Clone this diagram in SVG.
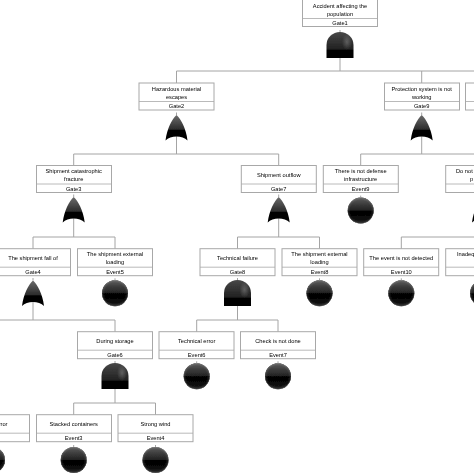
<svg xmlns="http://www.w3.org/2000/svg" width="474" height="474" viewBox="0 0 474 474">
<style>
.b{fill:#fff;stroke:#a8a8a8;stroke-width:1}
.d{stroke:#a8a8a8;stroke-width:.8;fill:none}
.t{font-family:"Liberation Sans",Arial,sans-serif;font-size:5.7px;fill:#000;text-anchor:middle}
.c{fill:none;stroke:#a4a4a4;stroke-width:1}
</style>
<defs>
<filter id="soft" x="0" y="0" width="100%" height="100%" filterUnits="userSpaceOnUse"><feGaussianBlur stdDeviation="0.22"/></filter>
<linearGradient id="g" x1="0" y1="0" x2="0" y2="1">
<stop offset="0" stop-color="#5e5e5e"/><stop offset=".25" stop-color="#3c3c3c"/><stop offset=".49" stop-color="#222"/><stop offset=".51" stop-color="#030303"/><stop offset=".8" stop-color="#080808"/><stop offset="1" stop-color="#2a2a2a"/>
</linearGradient>
<radialGradient id="rim" cx=".5" cy=".5" r=".5">
<stop offset="0" stop-color="#fff" stop-opacity="0"/><stop offset=".8" stop-color="#fff" stop-opacity="0"/><stop offset=".94" stop-color="#fff" stop-opacity=".08"/><stop offset="1" stop-color="#000" stop-opacity=".5"/>
</radialGradient>
<radialGradient id="hl" cx=".5" cy=".5" r=".5">
<stop offset="0" stop-color="#fff" stop-opacity=".22"/><stop offset="1" stop-color="#fff" stop-opacity="0"/>
</radialGradient>
<linearGradient id="a" x1="0" y1="0" x2="0" y2="1">
<stop offset="0" stop-color="#484848"/><stop offset=".35" stop-color="#333"/><stop offset=".66" stop-color="#222"/><stop offset=".7" stop-color="#030303"/><stop offset="1" stop-color="#000"/>
</linearGradient>
<linearGradient id="o" x1="0" y1="0" x2="0" y2="1">
<stop offset="0" stop-color="#6c6c6c"/><stop offset=".3" stop-color="#4a4a4a"/><stop offset=".56" stop-color="#2c2c2c"/><stop offset=".6" stop-color="#040404"/><stop offset="1" stop-color="#000"/>
</linearGradient>
<g id="ev"><circle r="13" fill="url(#g)"/><circle r="13" fill="url(#rim)"/><line y1="-15" y2="-13" class="c"/></g>
<g id="and"><path d="M-13.500 13V0A13.500 13 0 0 1 13.500 0V13Z" fill="url(#a)"/><ellipse cx="7" cy="-3" rx="5" ry="8" fill="url(#hl)"/><line y1="-15" y2="-13" class="c"/></g>
<g id="or"><path d="M0-12.500C4.500-8.500 9.500 1 11 13C6 7.500-6 7.500-11 13C-9.500 1-4.500-8.500 0-12.500Z" fill="url(#o)"/><line y1="-15" y2="-12.500" class="c"/></g>
</defs>
<rect width="474" height="474" fill="#fff"/>
<g filter="url(#soft)">
<g id="connectors" class="c">
<path d="M340 57V71M176.500 71H474M176.500 71V83M421.700 71V83"/>
<path d="M176.500 136V154M73.700 154H278.700M73.700 154V165.500M278.700 154V165.500"/>
<path d="M421.700 136V154M360.700 154H474M360.700 154V165.500"/>
<path d="M73.700 218V237M33 237H115M33 237V249M115 237V249"/>
<path d="M278.700 218V237M237.500 237H319.500M237.500 237V249M319.500 237V249"/>
<path d="M401.300 237H474M401.300 237V249"/>
<path d="M33 302V320M0 320H115M115 320V332"/>
<path d="M237.500 306V320M196.700 320H278M196.700 320V332M278 320V332"/>
<path d="M115 389V403M73.700 403H155.500M73.700 403V415M155.500 403V415"/>
</g>
<g id="Gate1"><rect class="b" x="302.500" y="-2" width="75" height="28.500"/><path class="d" d="M302.500 18.500H377.500"/><text class="t" x="340" y="7.500">Accident affecting the</text><text class="t" x="340" y="15.800">population</text><text class="t" x="340" y="24.800">Gate1</text><use href="#and" x="340" y="45"/></g>
<g id="Gate2"><rect class="b" x="139" y="83" width="75" height="27"/><path class="d" d="M139 101.500H214"/><text class="t" x="176.500" y="90.500">Hazardous material</text><text class="t" x="176.500" y="98.800">escapes</text><text class="t" x="176.500" y="108">Gate2</text><use href="#or" x="176.500" y="127.500"/></g>
<g id="Gate9"><rect class="b" x="384.500" y="83" width="75" height="27"/><path class="d" d="M384.500 101.500H459.500"/><text class="t" x="421.700" y="90.500">Protection system is not</text><text class="t" x="421.700" y="98.800">working</text><text class="t" x="421.700" y="108">Gate9</text><use href="#or" x="421.700" y="127.500"/></g>
<g id="GateR"><rect class="b" x="465.500" y="83" width="75" height="27"/><path class="d" d="M465.500 101.500H540"/></g>
<g id="Gate3"><rect class="b" x="36.500" y="165.500" width="75" height="27"/><path class="d" d="M36.500 184H111.500"/><text class="t" x="73.700" y="173">Shipment catastrophic</text><text class="t" x="73.700" y="181.300">fracture</text><text class="t" x="73.700" y="190.500">Gate3</text><use href="#or" x="73.700" y="209.500"/></g>
<g id="Gate7"><rect class="b" x="241.300" y="165.500" width="75" height="27"/><path class="d" d="M241.300 184H316.300"/><text class="t" x="278.700" y="177">Shipment outflow</text><text class="t" x="278.700" y="190.500">Gate7</text><use href="#or" x="278.700" y="209.500"/></g>
<g id="Event9"><rect class="b" x="323.300" y="165.500" width="75" height="27"/><path class="d" d="M323.300 184H398.300"/><text class="t" x="360.700" y="173">There is not defense</text><text class="t" x="360.700" y="181.300">infrastructure</text><text class="t" x="360.700" y="190.500">Event9</text><use href="#ev" x="360.700" y="210.600"/></g>
<g id="GateDo"><rect class="b" x="445.700" y="165.500" width="75" height="27"/><path class="d" d="M445.700 184H520"/><text class="t" x="456" y="173" style="text-anchor:start">Do not</text><text class="t" x="470" y="181.300" style="text-anchor:start">p</text><use href="#or" x="483" y="209.500"/></g>
<g id="Gate4"><rect class="b" x="-4.500" y="248.700" width="75" height="27"/><path class="d" d="M-4.500 267.200H70.500"/><text class="t" x="33" y="260">The shipment fall of</text><text class="t" x="33" y="273.700">Gate4</text><use href="#or" x="33" y="293"/></g>
<g id="Event5"><rect class="b" x="77.500" y="248.700" width="75" height="27"/><path class="d" d="M77.500 267.200H152.500"/><text class="t" x="115" y="256">The shipment external</text><text class="t" x="115" y="264.300">loading</text><text class="t" x="115" y="273.700">Event5</text><use href="#ev" x="115" y="293.300"/></g>
<g id="Gate8"><rect class="b" x="200" y="248.700" width="75" height="27"/><path class="d" d="M200 267.200H275"/><text class="t" x="237.500" y="260">Technical failure</text><text class="t" x="237.500" y="273.700">Gate8</text><use href="#and" x="237.500" y="293"/></g>
<g id="Event8"><rect class="b" x="282" y="248.700" width="75" height="27"/><path class="d" d="M282 267.200H357"/><text class="t" x="319.500" y="256">The shipment external</text><text class="t" x="319.500" y="264.300">loading</text><text class="t" x="319.500" y="273.700">Event8</text><use href="#ev" x="319.500" y="293.300"/></g>
<g id="Event10"><rect class="b" x="363.700" y="248.700" width="75" height="27"/><path class="d" d="M363.700 267.200H438.700"/><text class="t" x="401.300" y="260">The event is not detected</text><text class="t" x="401.300" y="273.700">Event10</text><use href="#ev" x="401.300" y="293.300"/></g>
<g id="EventIn"><rect class="b" x="445.700" y="248.700" width="75" height="27"/><path class="d" d="M445.700 267.200H520"/><text class="t" x="457" y="256" style="text-anchor:start">Inadeq</text><use href="#ev" x="483" y="293.300"/></g>
<g id="Gate6"><rect class="b" x="77.500" y="331.700" width="75" height="27"/><path class="d" d="M77.500 350.200H152.500"/><text class="t" x="115" y="343">During storage</text><text class="t" x="115" y="356.700">Gate6</text><use href="#and" x="115" y="376"/></g>
<g id="Event6"><rect class="b" x="159" y="331.700" width="75" height="27"/><path class="d" d="M159 350.200H234"/><text class="t" x="196.700" y="343">Technical error</text><text class="t" x="196.700" y="356.700">Event6</text><use href="#ev" x="196.700" y="376.300"/></g>
<g id="Event7"><rect class="b" x="240.500" y="331.700" width="75" height="27"/><path class="d" d="M240.500 350.200H315.500"/><text class="t" x="278" y="343">Check is not done</text><text class="t" x="278" y="356.700">Event7</text><use href="#ev" x="278" y="376.300"/></g>
<g id="EventE"><rect class="b" x="-45.500" y="414.700" width="75" height="27"/><path class="d" d="M-45.500 433.200H29.500"/><text class="t" x="7.500" y="426" style="text-anchor:end">rror</text><use href="#ev" x="-8" y="460"/></g>
<g id="Event3"><rect class="b" x="36.500" y="414.700" width="75" height="27"/><path class="d" d="M36.500 433.200H111.500"/><text class="t" x="73.700" y="426">Stacked containers</text><text class="t" x="73.700" y="439.700">Event3</text><use href="#ev" x="73.700" y="460"/></g>
<g id="Event4"><rect class="b" x="118" y="414.700" width="75" height="27"/><path class="d" d="M118 433.200H193"/><text class="t" x="155.500" y="426">Strong wind</text><text class="t" x="155.500" y="439.700">Event4</text><use href="#ev" x="155.500" y="460"/></g>
</g>
</svg>
